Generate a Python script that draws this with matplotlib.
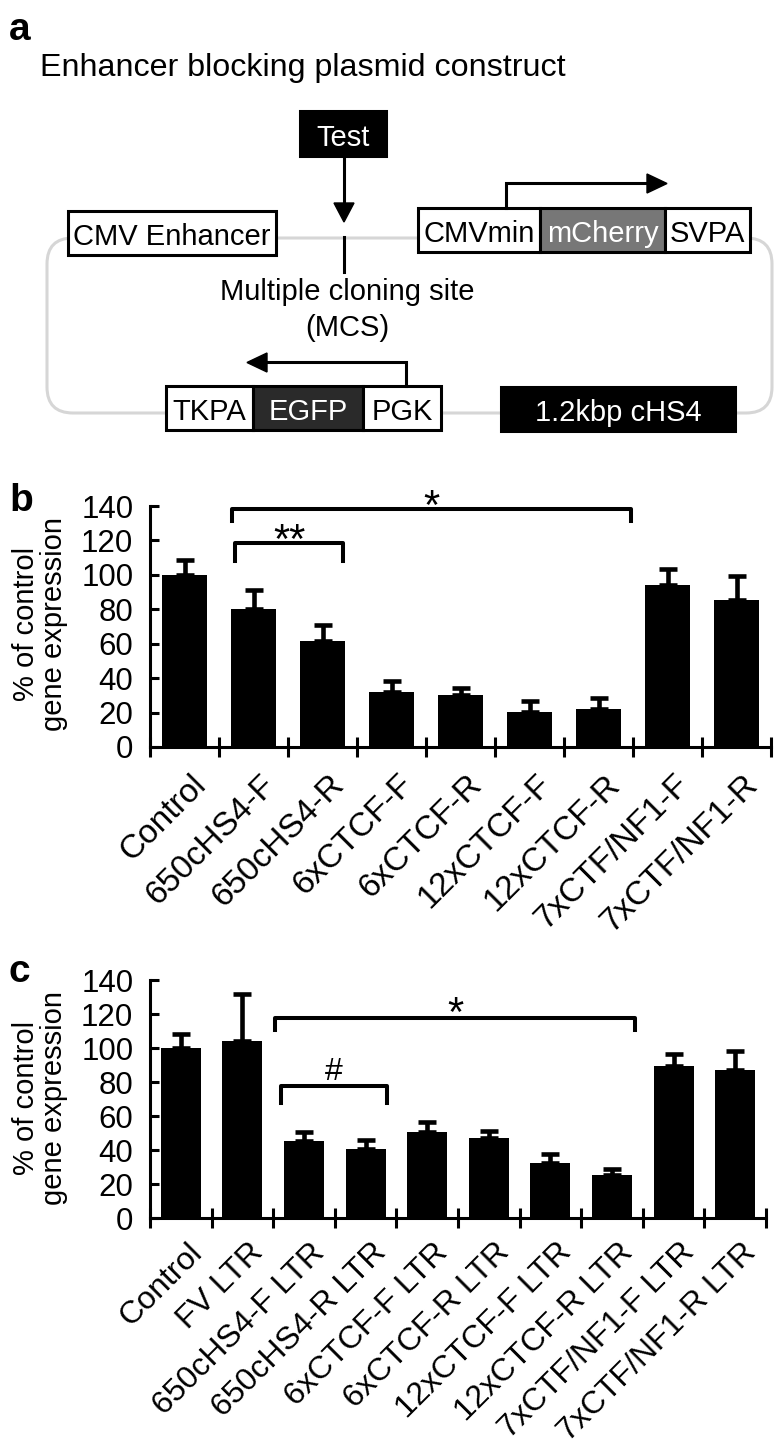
import numpy as np
import matplotlib.pyplot as plt
import matplotlib.transforms as mtransforms
from matplotlib.patches import Rectangle, FancyBboxPatch, Polygon

plt.rcParams['font.family'] = ['Liberation Sans', 'DejaVu Sans']

W, H = 776, 1447

# panel b: enhancer blocking, % of control
b_labels = ['Control', '650cHS4-F', '650cHS4-R', '6xCTCF-F', '6xCTCF-R',
            '12xCTCF-F', '12xCTCF-R', '7xCTF/NF1-F', '7xCTF/NF1-R']
b_values = [100, 80, 61.6, 32, 30.1, 20.4, 22.3, 94.2, 85.4]
b_errors = [8.7, 11.3, 9.3, 6.3, 4.3, 6.4, 6.2, 9.1, 14.0]

# panel c: same constructs with LTR
c_labels = ['Control', 'FV LTR', '650cHS4-F LTR', '650cHS4-R LTR', '6xCTCF-F LTR',
            '6xCTCF-R LTR', '12xCTCF-F LTR', '12xCTCF-R LTR', '7xCTF/NF1-F LTR',
            '7xCTF/NF1-R LTR']
c_values = [100, 104, 45.1, 40.8, 50.6, 47.1, 32.5, 25.5, 89.4, 87.3]
c_errors = [8.4, 27.5, 5.5, 4.9, 5.9, 3.9, 5.3, 3.1, 6.9, 10.9]

# significance brackets: x start, x end, top, drop, mark, mark centre
b_brackets = [(1.19, 6.97, 138, 7, '*', 146.5), (1.23, 2.80, 118.5, 10.5, '**', 127)]
c_brackets = [(2.03, 7.88, 117.6, 7, '*', 127), (2.13, 3.85, 77.6, 10, '#', 88)]

fig = plt.figure(figsize=(W / 100, H / 100), dpi=100)

# ---------- panel a : plasmid diagram, drawn in pixel coordinates ----------
ax_a = fig.add_axes([0, 0, 1, 1])
ax_a.set_xlim(0, W)
ax_a.set_ylim(H, 0)
ax_a.axis('off')

LW = 2.2
DIAG_FS = 21

ax_a.add_patch(FancyBboxPatch((47, 238), 725, 175, boxstyle='round,pad=0,rounding_size=26',
                              fill=False, edgecolor='#d6d6d6', lw=2.2, zorder=1))

# (x0, x1, y0, y1, text, face, text colour)
segments = [
    (68, 276, 211, 255, 'CMV Enhancer', 'white', 'black'),
    (418, 540, 208, 252, 'CMVmin', 'white', 'black'),
    (540, 665, 208, 252, 'mCherry', '#777777', 'white'),
    (665, 750, 208, 252, 'SVPA', 'white', 'black'),
    (166, 253, 386, 430, 'TKPA', 'white', 'black'),
    (253, 363, 386, 430, 'EGFP', '#2a2a2a', 'white'),
    (363, 441, 386, 430, 'PGK', 'white', 'black'),
    (501, 735, 387, 431, '1.2kbp cHS4', 'black', 'white'),
    (300, 386, 111, 156, 'Test', 'black', 'white'),
]
for x0, x1, y0, y1, txt, face, tc in segments:
    ax_a.add_patch(Rectangle((x0, y0), x1 - x0, y1 - y0, facecolor=face,
                             edgecolor='black', lw=LW, zorder=3))
    ax_a.text((x0 + x1) / 2, (y0 + y1) / 2 + 1, txt, color=tc, fontsize=DIAG_FS,
              ha='center', va='center_baseline', zorder=4)

# arrows
ax_a.plot([344, 344], [156, 206], color='black', lw=LW, zorder=3)
ax_a.add_patch(Polygon([(334, 203), (354, 203), (344, 222)], color='black', zorder=3))
ax_a.plot([344, 344], [237, 272], color='black', lw=LW, zorder=3)

ax_a.plot([506, 506, 650], [208, 183, 183], color='black', lw=LW, zorder=3,
          solid_joinstyle='miter')
ax_a.add_patch(Polygon([(647, 174), (647, 193), (667, 183.5)], color='black', zorder=3))

ax_a.plot([406, 406, 264], [386, 362, 362], color='black', lw=LW, zorder=3,
          solid_joinstyle='miter')
ax_a.add_patch(Polygon([(267, 353), (267, 372), (247, 362.5)], color='black', zorder=3))

ax_a.text(347, 292, 'Multiple cloning site', fontsize=DIAG_FS, ha='center', va='center')
ax_a.text(347, 328, '(MCS)', fontsize=DIAG_FS, ha='center', va='center')
ax_a.text(40, 76, 'Enhancer blocking plasmid construct', fontsize=23.2, ha='left', va='baseline')
ax_a.text(9, 40, 'a', fontsize=28, fontweight='bold', ha='left', va='baseline')
ax_a.text(9, 511, 'b', fontsize=28, fontweight='bold', ha='left', va='baseline')
ax_a.text(9, 982, 'c', fontsize=28, fontweight='bold', ha='left', va='baseline')


def draw_bars(ax, labels, values, errors, brackets, label_fs, label_pad):
    n = len(labels)
    x = np.arange(n) + 0.5
    ax.bar(x, values, width=0.65, color='black', zorder=2)
    ax.errorbar(x, values, yerr=[np.zeros(n), errors], fmt='none', ecolor='black',
                elinewidth=3.3, capsize=6.8, capthick=3.3, zorder=3)
    ax.set_xlim(0, n)
    ax.set_ylim(0, 140)
    ax.set_yticks(range(0, 141, 20))
    ax.set_xticks(np.arange(n + 1))
    ax.set_xticklabels([])
    ax.set_xticks(x, minor=True)
    ax.set_xticklabels(labels, minor=True, rotation=45, ha='right', va='top',
                       rotation_mode='anchor', fontsize=label_fs)
    ax.tick_params(axis='x', which='major', direction='inout', length=13.7, width=2.2)
    ax.tick_params(axis='x', which='minor', length=0, pad=label_pad)
    ax.tick_params(axis='y', direction='in', length=6.5, width=2.2, labelsize=22.5, pad=12)
    for s in ['top', 'right']:
        ax.spines[s].set_visible(False)
    for s in ['left', 'bottom']:
        ax.spines[s].set_linewidth(2.2)
    shift = mtransforms.ScaledTranslation(6 / 100, 0, fig.dpi_scale_trans)
    for lbl in ax.get_xticklabels(minor=True):
        lbl.set_transform(lbl.get_transform() + shift)

    for x0, x1, top, drop, mark, my in brackets:
        ax.plot([x0, x0, x1, x1], [top - drop, top, top, top - drop], color='black',
                lw=2.9, clip_on=False, zorder=4, solid_joinstyle='round')
        fs = 30 if mark != '#' else 23
        off = -0.58 * fs if mark != '#' else -0.36 * fs
        ax.annotate(mark, xy=((x0 + x1) / 2, my), xytext=(0, off), textcoords='offset points',
                    ha='center', va='baseline', fontsize=fs, annotation_clip=False)


ax_b = fig.add_axes([150 / W, 1 - 747 / H, 621 / W, 241 / H])
draw_bars(ax_b, b_labels, b_values, b_errors, b_brackets, 24, 16)

ax_c = fig.add_axes([150 / W, 1 - 1218 / H, 616 / W, 238 / H])
draw_bars(ax_c, c_labels, c_values, c_errors, c_brackets, 23, 14)

fig.text(40 / W, 1 - 624 / H, '% of control\ngene expression', rotation=90, ha='center',
         va='center', fontsize=21, linespacing=1.0)
fig.text(40 / W, 1 - 1098 / H, '% of control\ngene expression', rotation=90, ha='center',
         va='center', fontsize=21, linespacing=1.0)

fig.savefig('out.png', dpi=100)
